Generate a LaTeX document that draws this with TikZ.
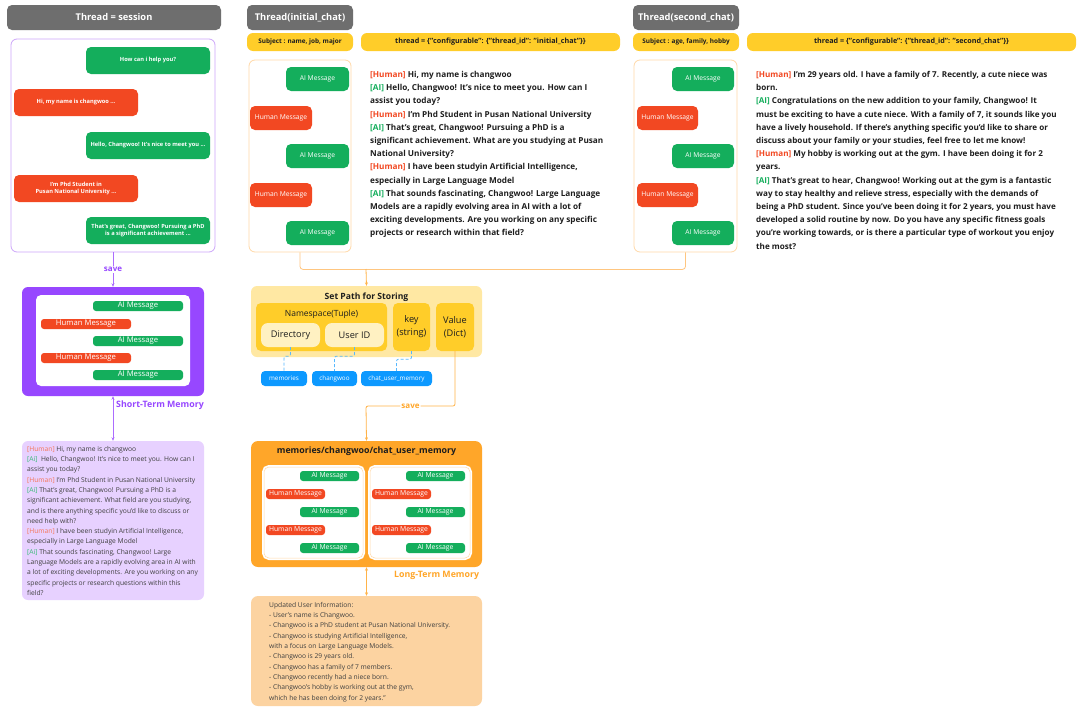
\documentclass[tikz,border=0pt]{standalone}
\usepackage{fontspec}
\setmainfont{Open Sans}
\usetikzlibrary{arrows.meta}

\definecolor{fgray}{HTML}{6E6E6E}
\definecolor{fgreen}{HTML}{14AE5C}
\definecolor{fred}{HTML}{F24822}
\definecolor{fpurple}{HTML}{9747FF}
\definecolor{flilac}{HTML}{E4CCFF}
\definecolor{fpurpline}{HTML}{CDA6FA}
\definecolor{fyellow}{HTML}{FFCD29}
\definecolor{flightyellow}{HTML}{FFE8A3}
\definecolor{fcream}{HTML}{FFF1C2}
\definecolor{forange}{HTML}{FFA629}
\definecolor{fpeach}{HTML}{FCD3A1}
\definecolor{forline}{HTML}{FFD9A8}
\definecolor{fconn}{HTML}{FFC680}
\definecolor{fblue}{HTML}{0D99FF}
\definecolor{ftext}{HTML}{1E1E1E}

\newcommand\tagH{\textcolor{fred}{[Human]}}
\newcommand\tagA{\textcolor{fgreen}{[AI]}}
\newcommand\tagHl{\textcolor{fred!75}{[Human]}}
\newcommand\tagAl{\textcolor{fgreen!85}{[Ai]}}

\tikzset{
  sz/.style 2 args={minimum width=#1pt, minimum height=#2pt},
  hdr/.style={fill=fgray, rounded corners=5pt, text=white, inner sep=0,
    font=\fontsize{9.3}{11}\selectfont\bfseries},
  subj/.style={fill=fyellow, rounded corners=6pt, text=ftext, inner sep=0,
    font=\fontsize{6.4}{7}\selectfont\bfseries},
  bub/.style={rounded corners=5pt, text=white, inner sep=0, align=center,
    font=\fontsize{5.7}{7.6}\selectfont\bfseries},
  cbub/.style={rounded corners=5pt, text=white, inner sep=0,
    font=\fontsize{6.7}{8}\selectfont},
  pill/.style={rounded corners=3pt, text=white, inner sep=0,
    font=\fontsize{7.7}{8}\selectfont},
  spill/.style={pill, font=\fontsize{6.8}{8}\selectfont},
  bpill/.style={fill=fblue, rounded corners=4pt, text=white, inner sep=0,
    font=\fontsize{6.3}{7}\selectfont},
  chatbox/.style={draw=forline, line width=0.8pt, rounded corners=6pt},
  chattext/.style={anchor=north west, inner sep=0, align=left, text=ftext,
    font=\fontsize{8.2}{13.2}\selectfont\bfseries},
  smalltext/.style={anchor=north west, inner sep=0, align=left, text=ftext!85,
    font=\fontsize{6.7}{10.3}\selectfont},
  panel/.style={fill=white, draw=forline, line width=0.5pt, rounded corners=5pt,
    preaction={draw=white, line width=4pt}},
  oline/.style={draw=fconn, line width=0.8pt, rounded corners=3pt},
  bdash/.style={draw=fblue!70, line width=0.8pt, dash pattern=on 3pt off 2pt,
    rounded corners=2pt},
  tip/.style={-{Stealth[length=3.5pt,width=3pt]}},
  dtip/.style={{Stealth[length=3.5pt,width=3pt]}-{Stealth[length=3.5pt,width=3pt]}},
  lbl/.style={inner sep=1pt, font=\fontsize{8}{9}\selectfont\bfseries},
  plain/.style={inner sep=0, text=ftext, font=\fontsize{9.2}{13}\selectfont},
}

\begin{document}
\begin{tikzpicture}[x=1pt,y=-1pt]
\useasboundingbox (0,0) rectangle (1092,720);
\fill[white] (0,0) rectangle (1092,720);

% ---------------- session column ----------------
\node[hdr, sz={214}{25}] (hs) at (114,17.5) {Thread = session};
\node[draw=fpurpline, line width=0.8pt, rounded corners=6pt, sz={204}{213}] (sess) at (113,145.5) {};
\node[bub, fill=fgreen, sz={124}{27}] (s1) at (148,60.5) {How can i help you?};
\node[bub, fill=fred, sz={124}{27}] (s2) at (76,102.5) {Hi, my name is changwoo ...};
\node[bub, fill=fgreen, sz={124}{27}] (s3) at (148,145.5) {Hello, Changwoo! It's nice to meet you ...};
\node[bub, fill=fred, sz={124}{27}] (s4) at (76,188.5) {I'm Phd Student in\\Pusan National University ...};
\node[bub, fill=fgreen, sz={124}{27}] (s5) at (148,230.5) {That's great, Changwoo! Pursuing a PhD\\is a significant achievement ...};

% short-term memory
\node[fill=fpurple, rounded corners=6pt, sz={182}{109}] (stm) at (113,341.5) {};
\node[fill=white, rounded corners=5pt, sz={154}{91}] (stmin) at (113,340.5) {};
\node[pill, fill=fgreen, sz={90}{10}] (p1) at (138,306) {AI Message};
\node[pill, fill=fred, sz={90}{10}] (p2) at (86,324) {Human Message};
\node[pill, fill=fgreen, sz={90}{10}] (p3) at (138,341) {AI Message};
\node[pill, fill=fred, sz={90}{10}] (p4) at (86,358) {Human Message};
\node[pill, fill=fgreen, sz={90}{10}] (p5) at (138,375) {AI Message};

\draw[draw=fpurple!80, line width=0.8pt, tip] (sess.south) -- node[lbl, fill=white, text=fpurple] (sv1) {save} (stm.north);

\node[fill=flilac!90, rounded corners=6pt, sz={182}{159}] (stmbox) at (113,520.5) {};
\draw[draw=fpurple!80, line width=0.8pt, dtip] (stm.south) -- (stmbox.north);
\node[lbl, anchor=west, text=fpurple, font=\fontsize{8.8}{9}\selectfont\bfseries] (stml) at (115,405) {Short-Term Memory};

\node[smalltext] (stmt) at (27,446) {\tagHl{} Hi, my name is changwoo\\
\tagAl{}\ \ Hello, Changwoo! It's nice to meet you. How can I\\
assist you today?\\
\tagHl{} I'm Phd Student in Pusan National University\\
\tagAl{} That's great, Changwoo! Pursuing a PhD is a\\
significant achievement. What field are you studying,\\
and is there anything specific you'd like to discuss or\\
need help with?\\
\tagHl{} I have been studyin Artificial Intelligence,\\
especially in Large Language Model\\
\tagAl{} That sounds fascinating, Changwoo! Large\\
Language Models are a rapidly evolving area in AI with\\
a lot of exciting developments. Are you working on any\\
specific projects or research questions within this\\
field?};

% ---------------- initial_chat thread ----------------
\node[hdr, sz={106}{25}] (hm) at (300,17.5) {Thread(initial\_chat)};
\node[subj, sz={106}{18}] (sm) at (300,42) {Subject : name, job, major};
\node[subj, sz={259}{18}, font=\fontsize{7.2}{8}\selectfont\bfseries] (tm) at (490.5,42) {thread = \{"configurable": \{"thread\_id": "initial\_chat"\}\}};
\node[chatbox, sz={102}{192}] (cm) at (300,156) {};
\node[cbub, fill=fgreen, sz={63}{24}] (m1) at (317.5,79) {AI Message};
\node[cbub, fill=fred, sz={62}{24}] (m2) at (281,118) {Human Message};
\node[cbub, fill=fgreen, sz={63}{24}] (m3) at (317.5,156) {AI Message};
\node[cbub, fill=fred, sz={62}{24}] (m4) at (281,195) {Human Message};
\node[cbub, fill=fgreen, sz={63}{24}] (m5) at (317.5,233) {AI Message};

\node[chattext] (mt) at (370,71) {\tagH{} Hi, my name is changwoo\\
\tagA{} Hello, Changwoo! It's nice to meet you. How can I\\
assist you today?\\
\tagH{} I'm Phd Student in Pusan National University\\
\tagA{} That's great, Changwoo! Pursuing a PhD is a\\
significant achievement. What are you studying at Pusan\\
National University?\\
\tagH{} I have been studyin Artificial Intelligence,\\
especially in Large Language Model\\
\tagA{} That sounds fascinating, Changwoo! Large Language\\
Models are a rapidly evolving area in AI with a lot of\\
exciting developments. Are you working on any specific\\
projects or research within that field?};

% ---------------- second_chat thread ----------------
\node[hdr, sz={106}{25}] (hr) at (686,17.5) {Thread(second\_chat)};
\node[subj, sz={106}{18}] (sr) at (686,42) {Subject : age, family, hobby};
\node[subj, sz={329}{18}, font=\fontsize{7.2}{8}\selectfont\bfseries] (tr) at (911.5,42) {thread = \{"configurable": \{"thread\_id": "second\_chat"\}\}};
\node[chatbox, sz={103}{192}] (cr) at (685.5,156) {};
\node[cbub, fill=fgreen, sz={62}{24}] (r1) at (703,79) {AI Message};
\node[cbub, fill=fred, sz={61}{24}] (r2) at (667.5,118) {Human Message};
\node[cbub, fill=fgreen, sz={62}{24}] (r3) at (703,156) {AI Message};
\node[cbub, fill=fred, sz={61}{24}] (r4) at (667.5,195) {Human Message};
\node[cbub, fill=fgreen, sz={62}{24}] (r5) at (703,233) {AI Message};

\node[chattext, font=\fontsize{8.1}{13.2}\selectfont\bfseries] (rt) at (756,71) {\tagH{} I'm 29 years old. I have a family of 7. Recently, a cute niece was\\
born.\\
\tagA{} Congratulations on the new addition to your family, Changwoo! It\\
must be exciting to have a cute niece. With a family of 7, it sounds like you\\
have a lively household. If there's anything specific you'd like to share or\\
discuss about your family or your studies, feel free to let me know!\\
\tagH{} My hobby is working out at the gym. I have been doing it for 2\\
years.\\
\tagA{} That's great to hear, Changwoo! Working out at the gym is a fantastic\\
way to stay healthy and relieve stress, especially with the demands of\\
being a PhD student. Since you've been doing it for 2 years, you must have\\
developed a solid routine by now. Do you have any specific fitness goals\\
you're working towards, or is there a particular type of workout you enjoy\\
the most?};

% ---------------- storing path ----------------
\node[fill=flightyellow, rounded corners=6pt, sz={231}{71}] (sp) at (366.5,321.5) {};
\node[lbl, font=\fontsize{8.6}{9}\selectfont\bfseries, text=ftext] (spt) at (366.5,297) {Set Path for Storing};
\node[fill=fyellow, rounded corners=5pt, sz={131}{48}] (ns) at (321.5,327) {};
\node[plain, font=\fontsize{8.5}{9}\selectfont] (nst) at (321.5,314) {Namespace(Tuple)};
\node[plain, fill=fcream, rounded corners=7pt, sz={59}{24}] (dir) at (290.5,335) {Directory};
\node[plain, fill=fcream, rounded corners=7pt, sz={59}{24}] (uid) at (354.5,335) {User ID};
\node[plain, fill=fyellow, rounded corners=5pt, sz={37}{48}, align=center] (key) at (411.5,327) {key\\(string)};
\node[plain, fill=fyellow, rounded corners=5pt, sz={38}{48}, align=center] (val) at (455,327) {Value\\(Dict)};

\node[bpill, sz={46}{15}] (mem) at (284,378.5) {memories};
\node[bpill, sz={45}{15}] (chw) at (334.5,378.5) {changwoo};
\node[bpill, sz={71}{15}] (cum) at (396.5,378.5) {chat\_user\_memory};
\draw[bdash] (dir.south) -- ++(0,9) -| (mem.north);
\draw[bdash] (uid.south) -- ++(0,9) -| (chw.north);
\draw[bdash] (key.south) -- ++(0,8) -| (cum.north);

% threads feeding the storing path
\draw[oline] (cm.south) -- ++(0,17) -| (cr.south);
\coordinate (jn) at (366,269);
\draw[draw=forange!85, line width=0.8pt, tip] (jn) -- (sp.north);

% ---------------- long-term memory ----------------
\node[fill=forange, rounded corners=7pt, sz={231}{126}] (ltm) at (366.5,504) {};
\node[inner sep=0, text=ftext, font=\fontsize{8.8}{10}\selectfont\bfseries] (ltmt) at (366.5,451) {memories/changwoo/chat\_user\_memory};
\node[panel, sz={99}{91}] (pl) at (313.5,512.5) {};
\node[panel, sz={100}{91}] (pr) at (420,512.5) {};

\node[spill, fill=fgreen, sz={59}{10}] (l1) at (329.5,476) {AI Message};
\node[spill, fill=fred, sz={59}{10}] (l2) at (295.5,494) {Human Message};
\node[spill, fill=fgreen, sz={59}{10}] (l3) at (329.5,512) {AI Message};
\node[spill, fill=fred, sz={59}{10}] (l4) at (295.5,530) {Human Message};
\node[spill, fill=fgreen, sz={59}{10}] (l5) at (329.5,548) {AI Message};
\node[spill, fill=fgreen, sz={59}{10}] (q1) at (435.5,476) {AI Message};
\node[spill, fill=fred, sz={59}{10}] (q2) at (401.5,494) {Human Message};
\node[spill, fill=fgreen, sz={59}{10}] (q3) at (435.5,512) {AI Message};
\node[spill, fill=fred, sz={59}{10}] (q4) at (401.5,530) {Human Message};
\node[spill, fill=fgreen, sz={59}{10}] (q5) at (435.5,548) {AI Message};

\coordinate (svc) at (366,406);
\draw[draw=forange!85, line width=0.8pt, rounded corners=2pt, tip] (val.south) |- node[pos=0.75, lbl, fill=white, text=forange] (sv2) {save} (svc) -- (ltm.north);

\node[fill=fpeach, rounded corners=7pt, sz={231}{110}] (upd) at (366.5,651) {};
\draw[draw=forange!85, line width=0.8pt, dtip] (ltm.south) -- (upd.north);
\node[lbl, anchor=west, text=forange, font=\fontsize{8.8}{9}\selectfont\bfseries] (ltml) at (393,575) {Long-Term Memory};

\node[smalltext] (updt) at (269,602) {Updated User Information:\\
- User's name is Changwoo.\\
- Changwoo is a PhD student at Pusan National University.\\
- Changwoo is studying Artificial Intelligence,\\
with a focus on Large Language Models.\\
- Changwoo is 29 years old.\\
- Changwoo has a family of 7 members.\\
- Changwoo recently had a niece born.\\
- Changwoo's hobby is working out at the gym,\\
which he has been doing for 2 years."};

\end{tikzpicture}
\end{document}
